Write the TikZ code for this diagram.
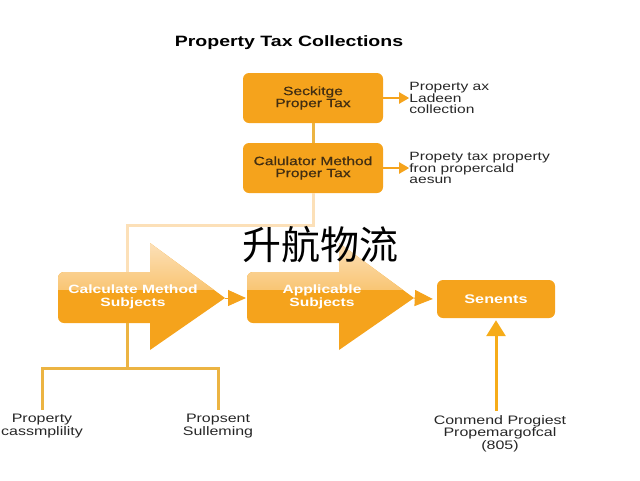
\documentclass[tikz,border=0pt]{standalone}
\usepackage{fontspec}
\setmainfont{Liberation Sans}[FakeStretch=1.3]
\newfontfamily\cjkfont{Noto Sans CJK SC}
\usetikzlibrary{arrows.meta,positioning}
\definecolor{taxorange}{RGB}{245,163,28}
\definecolor{taxpale}{RGB}{252,224,184}
\definecolor{taxgold}{RGB}{236,180,66}
\definecolor{taxdark}{RGB}{66,46,18}
\begin{document}
\begin{tikzpicture}[x=1pt, y=-1pt, >={Triangle[length=10pt,width=11pt]},
  box/.style={fill=taxorange, rounded corners=6pt, align=center, text=taxdark,
    inner sep=1pt, font=\fontsize{12}{12}\selectfont\addfontfeature{FakeBold=0.7}},
  note/.style={align=left, inner sep=0pt, text=black!85, font=\fontsize{12}{11.5}\selectfont},
  leaf/.style={align=center, inner sep=1pt, text=black!85, font=\fontsize{12.3}{12.5}\selectfont},
  arrowtext/.style={align=center, text=white, font=\bfseries\fontsize{12}{12.5}\selectfont},
  goldline/.style={taxgold, line width=3pt},
  paleline/.style={taxpale, line width=3pt},
  flow/.style={taxorange, line width=1pt, -{Triangle[length=18pt,width=16pt]}}]
\useasboundingbox (0,0) rectangle (640,480);

\node[font=\bfseries\fontsize{15}{18}\selectfont] (title) at (289,43) {Property Tax Collections};

% top column
\node[box, minimum width=140pt, minimum height=50pt] (seck) at (313,98) {Seckitge\\Proper Tax};
\node[box, minimum width=140pt, minimum height=50pt] (calc) at (313,168) {Calulator Method\\Proper Tax};
\draw[goldline] (seck) -- (calc);
\node[note, right=26pt of seck] (noteA) {Property ax\\Ladeen\\collection};
\node[note, right=26pt of calc] (noteB) {Propety tax property\\fron propercald\\aesun};
\draw[->, taxorange, line width=2pt] (seck) -- (noteA);
\draw[->, taxorange, line width=2pt] (calc) -- (noteB);
\draw[paleline] (calc.south) -- ++(0,32) -| (127,273);

% big arrows
\foreach \dx/\lbl [count=\i] in {0/{Calculate Method\\Subjects}, 189/{Applicable\\Subjects}} {
  \begin{scope}[xshift=\dx pt]
    \fill[taxorange, path picture={\shade[top color=taxpale, bottom color=taxorange]
        (path picture bounding box.north west) rectangle ([yshift=-46pt]path picture bounding box.north east);}]
      (58,297) {[rounded corners=6pt] -- (58,272) -- (100,272)} -- (150,272) -- (150,243)
      -- (225,298) -- (150,350) -- (150,323) {[rounded corners=6pt] -- (58,323) -- (58,297)} -- cycle;
    \node[arrowtext] (sub\i) at (133,297) {\lbl};
    \coordinate (tail\i) at (58,298);
    \coordinate (tip\i) at (225,298);
    \coordinate (foot\i) at (127,323);
  \end{scope}
}

\node[box, minimum width=118pt, minimum height=38pt, text=white, font=\bfseries\fontsize{12.5}{12}\selectfont] (senents) at (496,299) {Senents};
\draw[flow] (tip1) -- ([xshift=-1pt]tail2);
\draw[flow] (tip2) -- ([xshift=-4pt]senents.west);

\node[leaf, anchor=north] (comm) at (500,414) {Conmend Progiest\\Propemargofcal\\(805)};
\draw[taxorange!90!yellow, line width=3pt, -{Triangle[length=16pt,width=19pt]}] (senents.south |- comm.north) ++(0,-3) coordinate (commtop) -- ([yshift=-2pt]senents.south);

% lower tree
\node[leaf, anchor=north] (propA) at (42,413) {Property\\cassmplility};
\node[leaf, anchor=north] (propB) at (218,413) {Propsent\\Sulleming};
\draw[goldline] (foot1) -- (127,368) coordinate (fork);
\draw[goldline] (fork) -| ([yshift=3pt]propA.north);
\draw[goldline] (fork) -| ([yshift=3pt]propB.north);

\node[font=\cjkfont\fontsize{39}{40}\selectfont] (mark) at (320,245) {升航物流};
\end{tikzpicture}
\end{document}
